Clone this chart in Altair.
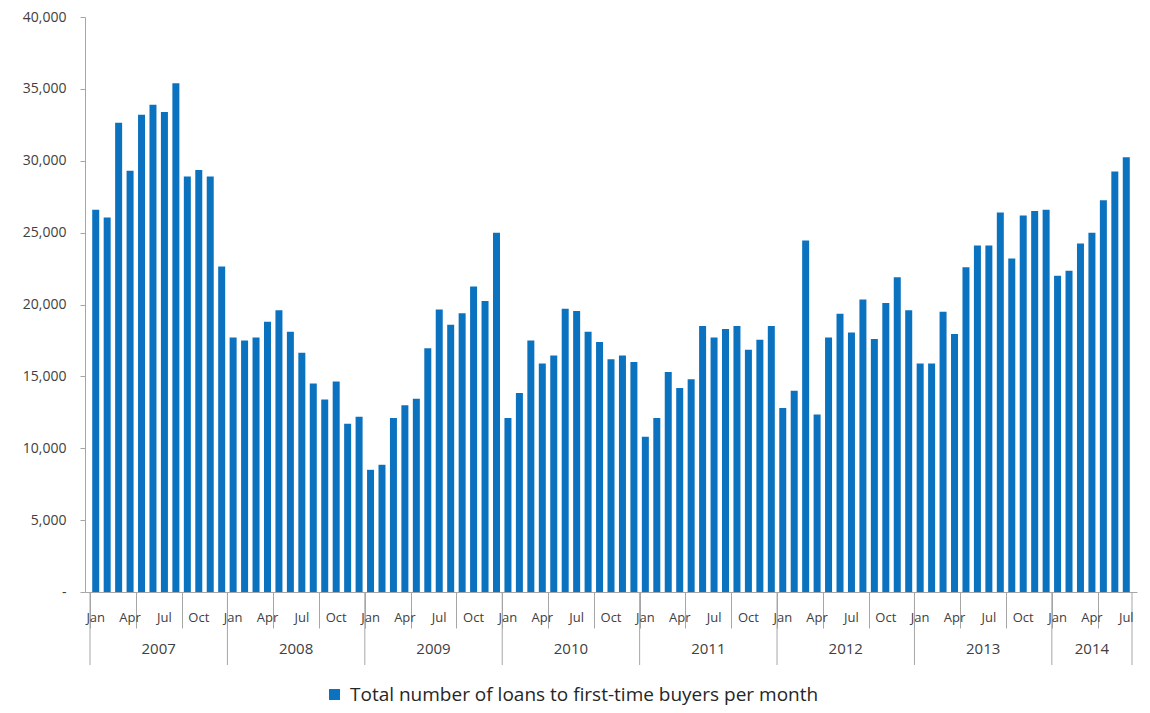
import altair as alt
import pandas as pd

month_names = ["Jan", "Feb", "Mar", "Apr", "May", "Jun",
               "Jul", "Aug", "Sep", "Oct", "Nov", "Dec"]
years = [2007, 2008, 2009, 2010, 2011, 2012, 2013, 2014]

loans_2007 = [26600, 26050, 32650, 29300, 33200, 33900, 33400, 35400, 28900, 29350, 28900, 22650]
loans_2008 = [17700, 17500, 17700, 18800, 19600, 18100, 16650, 14500, 13400, 14650, 11700, 12200]
loans_2009 = [8500, 8850, 12100, 13000, 13450, 16950, 19650, 18600, 19400, 21250, 20250, 25000]
loans_2010 = [12100, 13850, 17500, 15900, 16450, 19700, 19550, 18100, 17400, 16200, 16450, 16000]
loans_2011 = [10800, 12100, 15300, 14200, 14800, 18500, 17700, 18300, 18500, 16850, 17550, 18500]
loans_2012 = [12800, 14000, 24450, 12350, 17700, 19350, 18050, 20350, 17600, 20100, 21900, 19600]
loans_2013 = [15900, 15900, 19500, 17950, 22600, 24100, 24100, 26400, 23200, 26200, 26500, 26600]
loans_2014 = [22000, 22350, 24250, 25000, 27250, 29250, 30250]

series_name = "Total number of loans to first-time buyers per month"
y_ticks = [0, 5000, 10000, 15000, 20000, 25000, 30000, 35000, 40000]
label_months = ["Jan", "Apr", "Jul", "Oct"]

all_values = (loans_2007 + loans_2008 + loans_2009 + loans_2010 +
              loans_2011 + loans_2012 + loans_2013 + loans_2014)

rows = []
for i, v in enumerate(all_values):
    rows.append({
        "xc": i + 0.5,
        "loans": v,
        "month": month_names[i % 12],
        "year": years[i // 12],
        "series": series_name,
    })
df = pd.DataFrame(rows)
n = len(df)

month_lab = df[df["month"].isin(label_months)]

sep_rows = []
year_rows = []
for k, yr in enumerate(years):
    start = k * 12
    end = min(start + 12, n)
    sep_rows.append({"b": start})
    year_rows.append({"xc": (start + end) / 2, "label": str(yr)})
sep_rows.append({"b": n})
sep_df = pd.DataFrame(sep_rows)
year_df = pd.DataFrame(year_rows)

W, H = 1052, 575
FONT = "Open Sans"
GREY = "#a6a6a6"
TXT = "#404040"

xs = alt.Scale(domain=[0, n], nice=False, zero=False)

bars = alt.Chart(df).mark_bar(width=7).encode(
    x=alt.X("xc:Q", scale=xs,
            axis=alt.Axis(values=list(range(n + 1)), labels=False, tickSize=36,
                          tickColor=GREY, domainColor=GREY, grid=False, title=None)),
    y=alt.Y("loans:Q", scale=alt.Scale(domain=[0, 40000], nice=False),
            axis=alt.Axis(values=y_ticks, grid=False, title=None,
                          labelExpr="datum.value == 0 ? '-' : format(datum.value, ',')",
                          tickSize=5, tickColor=GREY, domainColor=GREY,
                          labelPadding=14, labelFontSize=14, labelColor=TXT,
                          labelFont=FONT)),
    color=alt.Color("series:N", scale=alt.Scale(range=["#0B72BF"]),
                    legend=alt.Legend(title=None, orient="none", legendX=240,
                                      legendY=H + 93, symbolType="square",
                                      symbolSize=120, symbolStrokeWidth=0,
                                      labelFontSize=19, labelColor="#262626",
                                      labelFont=FONT, labelLimit=0, padding=0,
                                      labelOffset=6)),
)

mlabels = alt.Chart(month_lab).mark_text(fontSize=13, font=FONT, color=TXT,
                                         baseline="middle").encode(
    x=alt.X("xc:Q", scale=xs),
    y=alt.value(H + 26),
    text="month:N",
)

seps = alt.Chart(sep_df).mark_rule(color=GREY, strokeWidth=1).encode(
    x=alt.X("b:Q", scale=xs),
    y=alt.value(H),
    y2=alt.value(H + 73),
)

ylabels = alt.Chart(year_df).mark_text(fontSize=15, font=FONT, color=TXT,
                                       baseline="middle").encode(
    x=alt.X("xc:Q", scale=xs),
    y=alt.value(H + 57),
    text="label:N",
)

chart = alt.layer(bars, seps, mlabels, ylabels).properties(
    width=W, height=H,
    autosize=alt.AutoSizeParams(type="none"),
    padding={"left": 77, "top": 9, "right": 5, "bottom": 120},
).configure_view(stroke=None)

chart.save("out.html", embed_options={"renderer": "svg", "actions": False})
